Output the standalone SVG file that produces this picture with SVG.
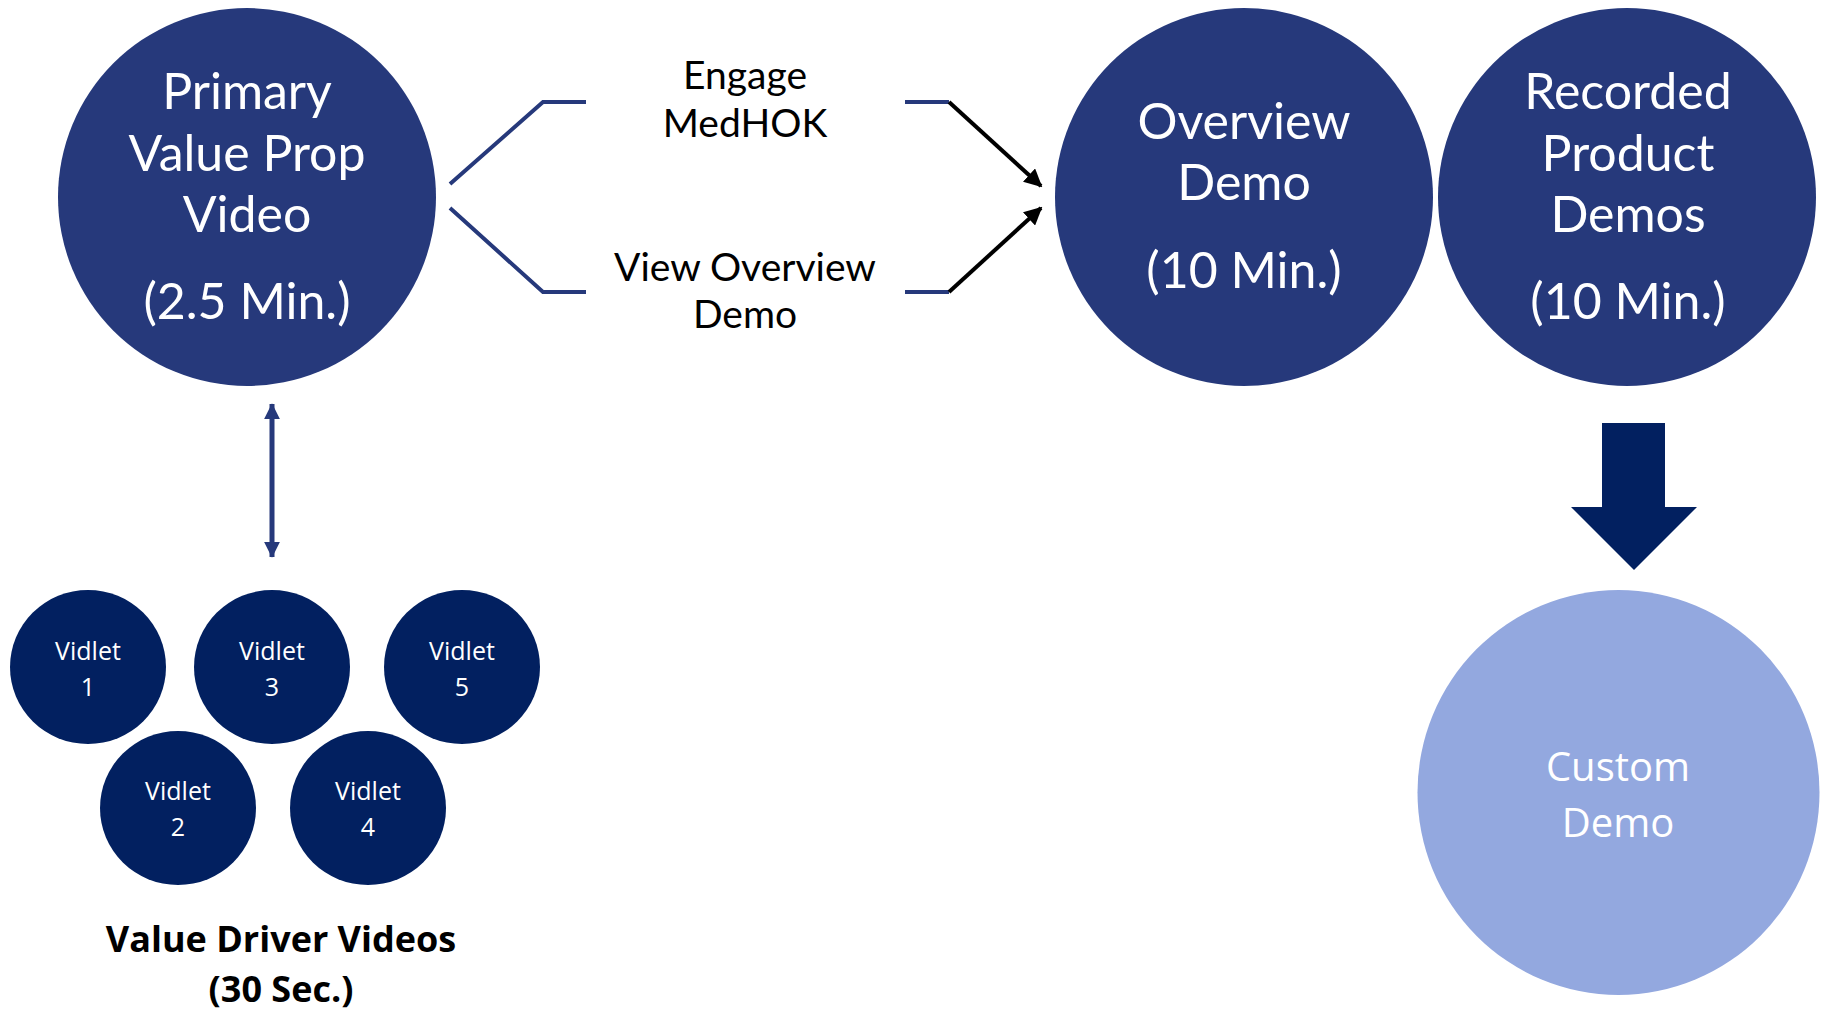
<svg xmlns="http://www.w3.org/2000/svg" width="1831" height="1011" viewBox="0 0 1831 1011">
  <style>
    .big { fill: #26397B; }
    .vid { fill: #022060; }
    .light { fill: #93A8DF; }
    .t-big { font-family: Lato, "Open Sans", sans-serif; font-size: 50px; fill: #ffffff; text-anchor: middle; }
    .t-lbl { font-family: Lato, "Open Sans", sans-serif; font-size: 39px; fill: #000000; text-anchor: middle; }
    .t-vid { font-family: "Open Sans", "Noto Sans", sans-serif; font-size: 25px; fill: #ffffff; text-anchor: middle; }
    .t-cust { font-family: "Open Sans", "Noto Sans", sans-serif; font-size: 40px; fill: #ffffff; text-anchor: middle; }
    .t-cap { font-family: "Open Sans", "Noto Sans", sans-serif; font-size: 36px; font-weight: bold; fill: #000000; text-anchor: middle; }
    .bracket { fill: none; stroke: #26397B; stroke-width: 4; }
    .flow { fill: none; stroke: #000000; stroke-width: 4; }
    .link { fill: none; stroke: #26397B; stroke-width: 5; }
  </style>
  <defs>
    <marker id="arrowBlack" viewBox="0 0 10 10" refX="9" refY="5" markerWidth="4.5" markerHeight="4.5" markerUnits="strokeWidth" orient="auto">
      <path d="M0,0 L10,5 L0,10 z" fill="#000000"/>
    </marker>
    <marker id="arrowNavy" viewBox="0 0 10 10" refX="9.5" refY="5" markerWidth="3.2" markerHeight="3.2" markerUnits="strokeWidth" orient="auto-start-reverse">
      <path d="M0,0 L10,5 L0,10 z" fill="#26397B"/>
    </marker>
  </defs>

  <!-- connectors -->
  <g id="connectors">
    <polyline class="bracket" points="450,184 543,102 586,102"/>
    <polyline class="bracket" points="450,208 543,292 586,292"/>
    <line class="bracket" x1="905" y1="102" x2="949" y2="102"/>
    <line class="bracket" x1="905" y1="292" x2="949" y2="292"/>
    <line class="flow" x1="949" y1="102" x2="1041" y2="186" marker-end="url(#arrowBlack)"/>
    <line class="flow" x1="949" y1="292" x2="1041" y2="208" marker-end="url(#arrowBlack)"/>
    <line class="link" x1="272" y1="404" x2="272" y2="557" marker-start="url(#arrowNavy)" marker-end="url(#arrowNavy)"/>
    <polygon id="arrow-down" fill="#022060" points="1602,423 1665,423 1665,507 1697,507 1634,570 1571,507 1602,507"/>
  </g>

  <!-- edge labels -->
  <g id="label-engage">
    <text class="t-lbl" x="745" y="89">Engage</text>
    <text class="t-lbl" x="745" y="137">MedHOK</text>
  </g>
  <g id="label-view">
    <text class="t-lbl" x="745" y="281">View Overview</text>
    <text class="t-lbl" x="745" y="328">Demo</text>
  </g>

  <!-- main nodes -->
  <g id="node-primary">
    <circle class="big" cx="247" cy="197" r="189"/>
    <text class="t-big" x="247" y="109">Primary</text>
    <text class="t-big" x="247" y="171">Value Prop</text>
    <text class="t-big" x="247" y="232">Video</text>
    <text class="t-big" x="247" y="319">(2.5 Min.)</text>
  </g>
  <g id="node-overview">
    <circle class="big" cx="1244" cy="197" r="189"/>
    <text class="t-big" x="1244" y="139">Overview</text>
    <text class="t-big" x="1244" y="200">Demo</text>
    <text class="t-big" x="1244" y="288">(10 Min.)</text>
  </g>
  <g id="node-recorded">
    <circle class="big" cx="1627" cy="197" r="189"/>
    <text class="t-big" x="1628" y="109">Recorded</text>
    <text class="t-big" x="1628" y="171">Product</text>
    <text class="t-big" x="1628" y="232">Demos</text>
    <text class="t-big" x="1628" y="319">(10 Min.)</text>
  </g>
  <g id="node-custom">
    <ellipse class="light" cx="1618.5" cy="792.5" rx="201" ry="202.5"/>
    <text class="t-cust" x="1618" y="781">Custom</text>
    <text class="t-cust" x="1618" y="837">Demo</text>
  </g>

  <!-- vidlets -->
  <g id="node-vidlet-1">
    <ellipse class="vid" cx="88" cy="667" rx="78" ry="77"/>
    <text class="t-vid" x="88" y="660">Vidlet</text>
    <text class="t-vid" x="88" y="696">1</text>
  </g>
  <g id="node-vidlet-3">
    <ellipse class="vid" cx="272" cy="667" rx="78" ry="77"/>
    <text class="t-vid" x="272" y="660">Vidlet</text>
    <text class="t-vid" x="272" y="696">3</text>
  </g>
  <g id="node-vidlet-5">
    <ellipse class="vid" cx="462" cy="667" rx="78" ry="77"/>
    <text class="t-vid" x="462" y="660">Vidlet</text>
    <text class="t-vid" x="462" y="696">5</text>
  </g>
  <g id="node-vidlet-2">
    <ellipse class="vid" cx="178" cy="808" rx="78" ry="77"/>
    <text class="t-vid" x="178" y="800">Vidlet</text>
    <text class="t-vid" x="178" y="836">2</text>
  </g>
  <g id="node-vidlet-4">
    <ellipse class="vid" cx="368" cy="808" rx="78" ry="77"/>
    <text class="t-vid" x="368" y="800">Vidlet</text>
    <text class="t-vid" x="368" y="836">4</text>
  </g>

  <g id="caption-value-drivers">
    <text class="t-cap" x="281" y="952">Value Driver Videos</text>
    <text class="t-cap" x="281" y="1002">(30 Sec.)</text>
  </g>
</svg>
